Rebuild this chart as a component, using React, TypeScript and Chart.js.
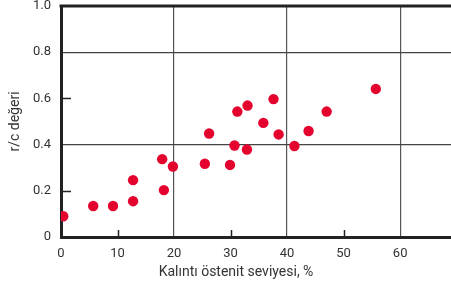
import React, { useEffect, useRef } from "react";
import { Chart, registerables } from "chart.js";

Chart.register(...registerables);

const austenite = [0.4, 5.7, 9.2, 12.75, 12.75, 17.9, 18.2, 19.8, 25.45, 26.2, 29.9, 30.7, 31.2, 32.9, 33.0, 35.8, 37.6, 38.5, 41.3, 43.8, 47.0, 55.7];
const rcRatio = [0.09, 0.134, 0.134, 0.155, 0.246, 0.337, 0.203, 0.305, 0.317, 0.448, 0.312, 0.396, 0.543, 0.379, 0.569, 0.494, 0.597, 0.444, 0.394, 0.459, 0.543, 0.641];
const xGridValues = [20, 40, 60];
const xMinorTicks = [10, 30, 50];
const yGridValues = [0.4, 0.8];
const yMinorTicks = [0.2, 0.6];
const xTitle = "Kalıntı östenit seviyesi, %";
const yTitle = "r/c değeri";

const FONT = "Roboto, 'DejaVu Sans', sans-serif";
const TEXT = "#333333";
const AXIS = "#222222";

const framePlugin = {
  id: "frame",
  afterDraw(chart: any) {
    const { ctx, chartArea, scales } = chart;
    ctx.save();
    ctx.strokeStyle = AXIS;
    ctx.lineWidth = 1.5;
    xMinorTicks.forEach((v) => {
      const px = Math.round(scales.x.getPixelForValue(v)) + 0.5;
      ctx.beginPath();
      ctx.moveTo(px, chartArea.bottom);
      ctx.lineTo(px, chartArea.bottom - 7);
      ctx.stroke();
    });
    yMinorTicks.forEach((v) => {
      const py = Math.round(scales.y.getPixelForValue(v)) + 0.5;
      ctx.beginPath();
      ctx.moveTo(chartArea.left, py);
      ctx.lineTo(chartArea.left + 10, py);
      ctx.stroke();
    });
    ctx.lineWidth = 3;
    ctx.strokeStyle = AXIS;
    ctx.beginPath();
    ctx.moveTo(chartArea.left - 1.5, chartArea.top);
    ctx.lineTo(chartArea.right, chartArea.top);
    ctx.stroke();
    // x-axis title, centred a little left of the plot centre as in the reference
    ctx.fillStyle = TEXT;
    ctx.font = `14px ${FONT}`;
    ctx.textAlign = "center";
    ctx.textBaseline = "middle";
    ctx.fillText(xTitle, (chartArea.left + chartArea.right) / 2 - 20, chartArea.bottom + 35);
    ctx.restore();
  },
};

const zeroPad = (s: any) => {
  s.paddingTop = 0;
  s.paddingBottom = 0;
  s.paddingLeft = 0;
  s.paddingRight = 0;
};

export default function App() {
  const ref = useRef<HTMLCanvasElement>(null);
  useEffect(() => {
    if (!ref.current) return;
    const chart = new Chart(ref.current, {
      type: "scatter",
      data: {
        datasets: [
          {
            data: austenite.map((x, i) => ({ x, y: rcRatio[i] })),
            backgroundColor: "#e4032e",
            borderColor: "#e4032e",
            pointRadius: 5.2,
            pointHoverRadius: 5.2,
            borderWidth: 0,
          },
        ],
      },
      options: {
        responsive: false,
        animation: false,
        events: [],
        layout: { autoPadding: false, padding: { top: 6, right: 0, left: 0, bottom: 0 } },
        plugins: { legend: { display: false }, tooltip: { enabled: false } },
        scales: {
          x: {
            type: "linear",
            min: 0,
            max: 69,
            afterFit: (s: any) => { s.height = 49; zeroPad(s); },
            ticks: {
              stepSize: 10,
              autoSkip: false,
              maxRotation: 0,
              padding: 9,
              color: TEXT,
              font: { family: FONT, size: 13 },
              callback: (v: any) => (Number(v) % 10 === 0 ? String(v) : ""),
            },
            grid: {
              drawTicks: false,
              lineWidth: 1.2,
              color: (c: any) => (c.tick && xGridValues.includes(c.tick.value) ? "#555" : "transparent"),
            },
            border: { display: true, width: 3, color: AXIS },
            title: { display: false },
          },
          y: {
            type: "linear",
            min: 0,
            max: 1,
            afterFit: (s: any) => { s.width = 61; zeroPad(s); },
            ticks: {
              stepSize: 0.2,
              padding: 10,
              color: TEXT,
              font: { family: FONT, size: 13 },
              callback: (v: any) => (Number(v) === 0 ? "0" : Number(v).toFixed(1)),
            },
            grid: {
              drawTicks: false,
              lineWidth: 1.2,
              color: (c: any) =>
                c.tick && yGridValues.some((g) => Math.abs(g - c.tick.value) < 1e-6) ? "#444" : "transparent",
            },
            border: { display: true, width: 3, color: AXIS },
            title: {
              display: true,
              text: yTitle,
              color: TEXT,
              font: { family: FONT, size: 14 },
              padding: { top: 7, bottom: 0 },
            },
          },
        },
      },
      plugins: [framePlugin],
    });
    return () => chart.destroy();
  }, []);
  return (
    <div style={{ position: "fixed", left: 0, top: 0, width: 451, height: 286, background: "#fff" }}>
      <canvas ref={ref} width={451} height={286} style={{ display: "block" }} />
    </div>
  );
}
